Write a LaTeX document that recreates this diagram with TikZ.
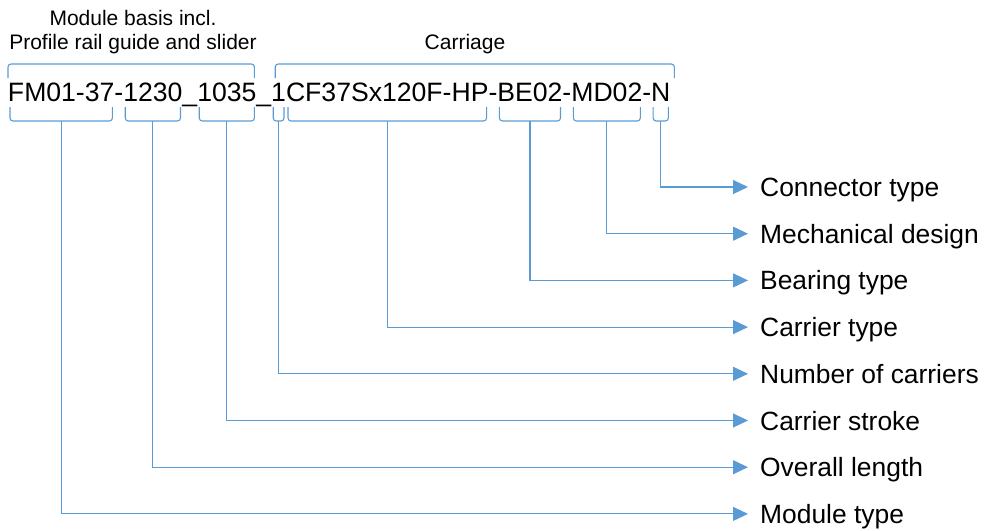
\documentclass[tikz,border=0pt]{standalone}
\usepackage{fontspec}
\setmainfont{Liberation Sans}
\usetikzlibrary{positioning,arrows.meta,calc}

\definecolor{lineblue}{HTML}{5B9BD5}

\begin{document}
\begin{tikzpicture}[
  x=1pt,y=-1pt,
  seg/.style={inner sep=0pt,outer sep=0pt,font=\fontsize{26.6}{30}\selectfont},
  toplabel/.style={align=center,font=\fontsize{21}{24}\selectfont},
  label/.style={anchor=west,inner xsep=12pt,inner ysep=0pt,text height=19pt,text depth=0pt,font=\fontsize{26.4}{30}\selectfont},
  bracket/.style={lineblue,line width=1.1pt,rounded corners=3pt},
  arrow/.style={lineblue,line width=1.1pt,-{Triangle[length=15pt,width=14pt]}}
]
\useasboundingbox (0,0) rectangle (985,530);

% the order code, piece by piece
\node[seg,anchor=base west] (sMod) at (8,101) {FM01-37};
\node[seg,base right=0pt of sMod] (d1) {-};
\node[seg,base right=0pt of d1] (sLen) {1230};
\node[seg,base right=0pt of sLen] (u1) {\_};
\node[seg,base right=0pt of u1] (sStroke) {1035};
\node[seg,base right=0pt of sStroke] (u2) {\_};
\node[seg,base right=0pt of u2] (sNum) {1};
\node[seg,base right=0pt of sNum] (sCarr) {CF37Sx120F-HP};
\node[seg,base right=0pt of sCarr] (d2) {-};
\node[seg,base right=0pt of d2] (sBear) {BE02};
\node[seg,base right=0pt of sBear] (d3) {-};
\node[seg,base right=0pt of d3] (sMech) {MD02};
\node[seg,base right=0pt of sMech] (d4) {-};
\node[seg,base right=0pt of d4] (sConn) {N};

% groups above the code
\node[toplabel] (tBasis) at (133,32) {Module basis incl.\\Profile rail guide and slider};
\node[toplabel] (tCarriage) at (465,44) {Carriage};
\draw[bracket] ($(sMod.base west)+(0,-23)$) -- ++(0,-14) -| ($(sStroke.base east)+(-2,-23)$);
\draw[bracket] ($(sNum.base west)+(4,-23)$) -- ++(0,-14) -| ($(sConn.base east)+(4,-23)$);

% brackets under the code
\foreach \s in {sMod,sLen,sStroke,sNum,sCarr,sBear,sMech,sConn}{
  \draw[bracket] ($(\s.base west)+(2,6)$) -- ++(0,14) -| ($(\s.base east)+(-2,6)$);
}

% meanings
\node[label] (lConn) at (748,187) {Connector type};
\node[label] (lMech) at (748,233.7) {Mechanical design};
\node[label] (lBear) at (748,280.4) {Bearing type};
\node[label] (lCarr) at (748,327.1) {Carrier type};
\node[label] (lNum) at (748,373.8) {Number of carriers};
\node[label] (lStroke) at (748,420.5) {Carrier stroke};
\node[label] (lLen) at (748,467.2) {Overall length};
\node[label] (lMod) at (748,513.9) {Module type};

\draw[arrow] ($(sConn.base)+(0,20)$) |- (lConn.west);
\draw[arrow] ($(sMech.base)+(0,20)$) |- (lMech.west);
\draw[arrow] ($(sBear.base)+(0,20)$) |- (lBear.west);
\draw[arrow] ($(sCarr.base)+(0,20)$) |- (lCarr.west);
\draw[arrow] ($(sNum.base)+(0,20)$) |- (lNum.west);
\draw[arrow] ($(sStroke.base)+(0,20)$) |- (lStroke.west);
\draw[arrow] ($(sLen.base)+(0,20)$) |- (lLen.west);
\draw[arrow] ($(sMod.base)+(0,20)$) |- (lMod.west);
\end{tikzpicture}
\end{document}
